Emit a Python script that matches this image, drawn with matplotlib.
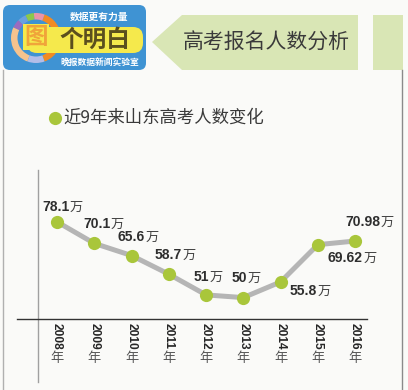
import matplotlib
matplotlib.use("Agg")
import matplotlib.pyplot as plt
from matplotlib.patches import FancyBboxPatch, Polygon, Wedge, Rectangle

plt.rcParams['font.family'] = ['Liberation Sans', 'Noto Sans CJK SC', 'DejaVu Sans']

# ---- data ----
years = [2008, 2009, 2010, 2011, 2012, 2013, 2014, 2015, 2016]
values = [78.1, 70.1, 65.6, 58.7, 51, 50, 55.8, 69.62, 70.98]
value_labels = ["78.1", "70.1", "65.6", "58.7", "51", "50", "55.8", "69.62", "70.98"]
unit = "万"
year_suffix = "年"
title = "高考报名人数分析"
legend_label = "近9年来山东高考人数变化"
logo_main = "个明白"
logo_char = "图"
logo_top = "数据更有力量"
logo_bottom = "晚报数据新闻实验室"

W, H = 408, 390
fig = plt.figure(figsize=(W / 100, H / 100), dpi=100)
bg = '#fafaf8'
fig.patch.set_facecolor(bg)

# decoration axes in pixel coordinates (y down)
deco = fig.add_axes([0, 0, 1, 1], zorder=0)
deco.set_xlim(0, W)
deco.set_ylim(H, 0)
deco.axis('off')

CJK = ['Noto Sans CJK SC', 'DejaVu Sans']

# frame lines
deco.plot([3, 3], [70, H], color='#b0b0b0', lw=1)
deco.plot([402, 402], [70, H], color='#8a8a8a', lw=1)
deco.plot([38, 38], [170, 382], color='#a0a0a0', lw=1)
deco.plot([17, 367], [319, 319], color='#333333', lw=1)

# title banner
green = '#d9e6b5'
deco.add_patch(Polygon([(152, 42), (182, 15), (358, 15), (358, 70), (182, 70)],
                       closed=True, facecolor=green, edgecolor='none'))
deco.add_patch(Rectangle((373, 15), 30, 55, facecolor=green, edgecolor='none'))
deco.text(266, 43, title, family=CJK, fontsize=15, color='#3a3a3a',
          ha='center', va='center')

# logo
deco.add_patch(FancyBboxPatch((6, 8), 137, 59, boxstyle="round,pad=3,rounding_size=7",
                              facecolor='#3f93d3', edgecolor='none'))
cx, cy, r, w = 36, 38, 25, 6.5
segs = [(-70, -25, '#f08a24'), (25, 70, '#f08a24'), (70, 95, '#e993a8'),
        (95, 115, '#8cc84a'), (115, 135, '#6aa0e0'), (135, 155, '#9a6cc0'),
        (155, 250, '#f5c38e'), (250, 290, '#b3bde8')]
for a1, a2, c in segs:
    deco.add_patch(Wedge((cx, cy), r, -a2, -a1, width=w, facecolor=c, edgecolor='none'))
deco.add_patch(FancyBboxPatch((28, 28), 114, 24, boxstyle="round,pad=1,rounding_size=10",
                              facecolor='#f5e94c', edgecolor='none'))
deco.add_patch(Rectangle((23, 24), 26, 26, facecolor='#f5e94c', edgecolor='none'))
deco.text(36, 37, logo_char, family=CJK, fontsize=17, fontweight='bold',
          color='#f0a43a', ha='center', va='center')
deco.text(95, 40, logo_main, family=CJK, fontsize=17, fontweight='bold',
          color='#5b4f1e', ha='center', va='center')
deco.text(99, 17, logo_top, family=CJK, fontsize=7, fontweight='bold',
          color='white', ha='center', va='center')
deco.text(100, 63, logo_bottom, family=CJK, fontsize=6.3, fontweight='bold',
          color='white', ha='center', va='center')

# legend
deco.plot([55], [118], 'o', color='#a9c63b', markersize=9.5, markeredgewidth=0)
deco.text(63, 118, legend_label, family=CJK, fontsize=12.5, color='#3a3a3a',
          ha='left', va='center')

# main chart axes
ax_l, ax_r, ax_t, ax_b = 38, 367, 170, 319
ax = fig.add_axes([ax_l / W, (H - ax_b) / H, (ax_r - ax_l) / W, (ax_b - ax_t) / H], zorder=1)
ax.patch.set_alpha(0)
ax.axis('off')
x = list(range(len(years)))
ax.set_xlim(-0.51, 8.32)
ax.set_ylim(42.07, 97.3)
ax.plot(x, values, color='#b5b5b5', lw=3.6, solid_capstyle='round', zorder=2)
ax.plot(x, values, 'o', color='#a9c63b', markersize=9.5, markeredgewidth=0, zorder=3)

label_offsets = [(-15, 15), (-11, 19), (-14, 19), (-14, 19), (-12, 18),
                 (-12, 20), (9, -9), (10, -13), (-10, 19)]
for xi, v, lab, off in zip(x, values, value_labels, label_offsets):
    t = ax.annotate(lab, xy=(xi, v), xytext=off, textcoords='offset pixels',
                    ha='left', va='center', family='Liberation Sans',
                    fontweight='bold', fontsize=10, color='#2e2e2e',
                    annotation_clip=False, zorder=4)
    ax.annotate(unit, xy=(1, 0), xycoords=t, xytext=(0.5, 0), textcoords='offset pixels',
                ha='left', va='bottom', family=CJK, fontsize=9.5, color='#444444',
                annotation_clip=False, zorder=4)

for xi, yr in zip(x, years):
    ax.annotate(str(yr), xy=(xi, 0), xycoords=('data', 'axes fraction'),
                xytext=(0, -4), textcoords='offset pixels', rotation=270,
                ha='center', va='top', family='Liberation Sans', fontweight='bold',
                fontsize=8.6, color='#262626', annotation_clip=False)
    ax.annotate(year_suffix, xy=(xi, 0), xycoords=('data', 'axes fraction'),
                xytext=(0, -33), textcoords='offset pixels',
                ha='center', va='top', family=CJK, fontsize=9.5, color='#555555',
                annotation_clip=False)

fig.savefig('out.png', dpi=100, facecolor=bg)
